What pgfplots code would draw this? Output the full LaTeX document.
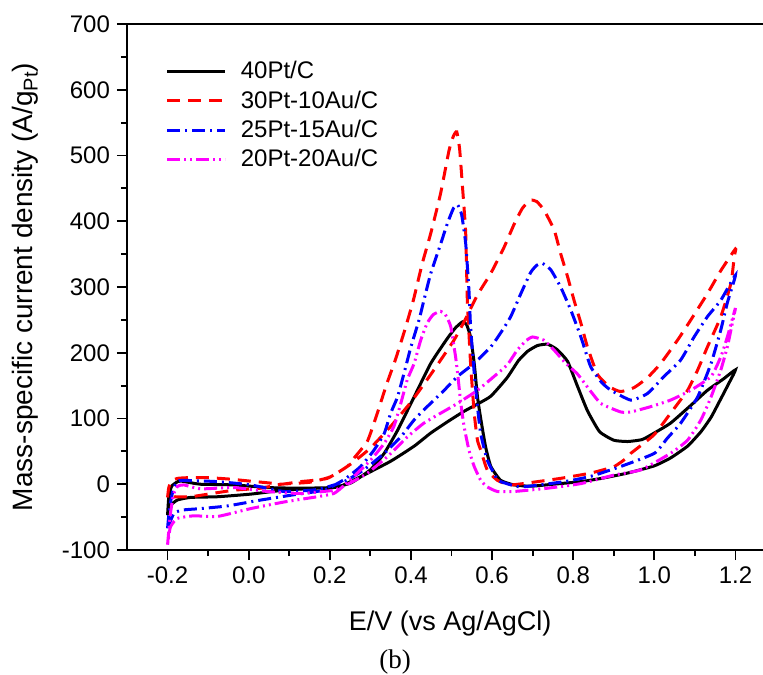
\documentclass[border=0pt]{standalone}
\usepackage{pgfplots}
\pgfplotsset{compat=1.18}
\usepackage{fontspec}
\setmainfont{Liberation Sans}
\newfontfamily\seriffont{Liberation Serif}
\definecolor{mag}{RGB}{255,0,255}
\definecolor{rd}{RGB}{255,0,0}
\definecolor{bl}{RGB}{0,0,255}
\begin{document}
\begin{tikzpicture}
\begin{axis}[
  scale only axis, width=324.5pt, height=263pt,
  xmin=-0.3, xmax=1.3, ymin=-100, ymax=700,
  xtick={-0.2,0,0.2,0.4,0.6,0.8,1.0,1.2},
  minor xtick={-0.1,0.1,0.3,0.5,0.7,0.9,1.1},
  ytick={-100,0,100,200,300,400,500,600,700},
  minor ytick={-50,50,150,250,350,450,550,650},
  xtick pos=left, ytick pos=left,
  tick align=outside,
  major tick length=5pt, minor tick length=3pt,
  every tick/.style={black, line width=0.9pt},
  axis line style={line width=1.1pt},
  /pgf/number format/assume math mode=true,
  xticklabel style={/pgf/number format/.cd, fixed, fixed zerofill, precision=1},
  yticklabel style={/pgf/number format/.cd, fixed, precision=0},
  tick label style={font=\fontsize{12}{14}\selectfont},
  xlabel={E/V (vs Ag/AgCl)},
  ylabel={Mass-specific current density (A/g\raisebox{-0.35ex}{\fontsize{10}{11}\selectfont Pt})},
  xlabel style={at={(axis description cs:0.498,-0.139)}, anchor=center, font=\fontsize{13.5}{15}\selectfont},
  ylabel style={at={(axis description cs:-0.157,0.5)}, anchor=center, font=\fontsize{14}{16}\selectfont},
  legend style={draw=none, fill=none, font=\fontsize{12}{14}\selectfont,
    at={(0.05,0.945)}, anchor=north west, row sep=0.5pt, column sep=5pt},
  legend cell align=left,
  legend image code/.code={\draw[#1] (0pt,0pt) -- (29pt,0pt);},
  every axis plot/.append style={smooth, tension=0.3},
]
% 40Pt/C
\addplot[black, line width=1.5pt] coordinates {
(-0.2,-47) (-0.197,-20) (-0.19,-3) (-0.175,4) (-0.168,5) (-0.14,2) (-0.118,0) (-0.036,-1) (0.046,-5) (0.128,-6) (0.21,-5) (0.227,-3) (0.284,14) (0.35,35) (0.408,58) (0.449,78) (0.49,95) (0.531,111) (0.564,122) (0.597,134) (0.637,162) (0.665,188) (0.687,202) (0.712,211) (0.737,213) (0.76,205) (0.786,187) (0.81,150) (0.835,112) (0.865,80) (0.9,67) (0.934,65) (0.97,68) (1.0,78) (1.04,93) (1.09,120) (1.131,143) (1.17,160) (1.2,174)
(1.185,155) (1.164,130) (1.14,102) (1.115,80) (1.082,58) (1.04,40) (1.0,28) (0.934,17) (0.87,9) (0.819,4) (0.75,0) (0.695,-3) (0.654,-1) (0.621,6) (0.597,27) (0.584,57) (0.572,100) (0.564,133) (0.556,184) (0.547,224) (0.537,243) (0.527,247) (0.51,238) (0.49,222) (0.449,184) (0.408,133) (0.367,82) (0.334,47) (0.3,22) (0.252,2) (0.2,-6) (0.169,-6) (0.087,-9) (0.005,-15) (-0.077,-19) (-0.143,-20) (-0.176,-24) (-0.196,-34) (-0.2,-47)
};
\addlegendentry{40Pt/C}
% 30Pt-10Au/C
\addplot[rd, line width=1.5pt, dash pattern=on 6.5pt off 4pt] coordinates {
(-0.2,-20) (-0.197,-5) (-0.19,5) (-0.175,9) (-0.15,10) (-0.1,10) (-0.05,8) (0.0,5) (0.05,2) (0.08,0) (0.128,4) (0.194,9) (0.25,30) (0.3,55) (0.35,88) (0.4,125) (0.45,168) (0.506,219) (0.535,252) (0.564,288) (0.597,321) (0.63,361) (0.654,395) (0.675,420) (0.695,432) (0.71,430) (0.728,417) (0.753,387) (0.769,351) (0.786,316) (0.802,280) (0.819,245) (0.835,209) (0.86,167) (0.89,148) (0.917,141) (0.95,147) (0.983,162) (1.016,184) (1.057,219) (1.09,250) (1.131,290) (1.164,325) (1.2,358)
(1.197,346) (1.189,306) (1.164,255) (1.131,209) (1.107,174) (1.082,143) (1.04,108) (0.999,75) (0.942,47) (0.934,41) (0.901,27) (0.843,17) (0.769,9) (0.712,4) (0.646,-1) (0.613,6) (0.588,22) (0.572,52) (0.564,67) (0.556,108) (0.547,184) (0.539,280) (0.535,382) (0.527,453) (0.52,510) (0.513,536) (0.505,530) (0.494,508) (0.473,442) (0.449,382) (0.428,336) (0.406,280) (0.385,235) (0.362,190) (0.34,152) (0.317,108) (0.293,66) (0.26,40) (0.243,27) (0.2,11) (0.15,3) (0.08,0) (0.03,-6) (-0.036,-9) (-0.1,-15) (-0.143,-19) (-0.18,-19) (-0.2,-20)
};
\addlegendentry{30Pt-10Au/C}
% 25Pt-15Au/C
\addplot[bl, line width=1.5pt, dash pattern=on 6.5pt off 2.5pt on 1pt off 2.5pt] coordinates {
(-0.2,-67) (-0.195,-35) (-0.185,-5) (-0.175,4) (-0.164,6) (-0.077,4) (0.005,-1) (0.087,-11) (0.169,-8) (0.235,4) (0.284,22) (0.334,47) (0.375,72) (0.408,98) (0.44,118) (0.482,143) (0.515,164) (0.556,184) (0.597,209) (0.621,230) (0.646,255) (0.671,290) (0.695,322) (0.71,333) (0.724,336) (0.745,326) (0.769,300) (0.794,265) (0.819,224) (0.843,179) (0.87,155) (0.893,143) (0.942,128) (0.983,138) (1.024,164) (1.065,189) (1.098,224) (1.131,255) (1.164,280) (1.2,318)
(1.18,276) (1.164,235) (1.14,184) (1.107,133) (1.065,93) (1.032,70) (1.0,47) (0.917,27) (0.843,12) (0.778,4) (0.671,-4) (0.621,4) (0.613,7) (0.588,37) (0.572,77) (0.564,118) (0.556,169) (0.547,240) (0.543,295) (0.535,366) (0.525,410) (0.515,425) (0.505,420) (0.49,397) (0.473,365) (0.449,321) (0.432,280) (0.42,250) (0.4,209) (0.383,169) (0.367,133) (0.35,108) (0.334,77) (0.309,52) (0.276,27) (0.235,7) (0.185,-9) (0.111,-16) (0.03,-24) (-0.053,-33) (-0.118,-37) (-0.16,-39) (-0.184,-44) (-0.2,-67)
};
\addlegendentry{25Pt-15Au/C}
% 20Pt-20Au/C
\addplot[mag, line width=1.5pt, dash pattern=on 6.5pt off 2pt on 1pt off 2pt on 1pt off 2pt] coordinates {
(-0.2,-92) (-0.193,-45) (-0.185,-15) (-0.175,-3) (-0.16,-1) (-0.118,-7) (-0.036,-5) (0.046,-11) (0.128,-14) (0.21,-9) (0.25,2) (0.293,17) (0.342,42) (0.391,72) (0.432,93) (0.473,108) (0.515,123) (0.564,143) (0.605,164) (0.638,182) (0.662,204) (0.685,219) (0.7,224) (0.728,219) (0.753,204) (0.78,185) (0.81,168) (0.835,148) (0.868,123) (0.917,110) (0.942,110) (0.991,118) (1.04,128) (1.09,143) (1.14,164) (1.164,194) (1.18,224) (1.2,268)
(1.189,235) (1.18,209) (1.164,174) (1.14,133) (1.115,98) (1.082,67) (1.04,47) (0.967,22) (0.901,14) (0.819,1) (0.737,-6) (0.654,-11) (0.613,-11) (0.588,-4) (0.572,6) (0.556,27) (0.543,52) (0.531,88) (0.523,123) (0.515,169) (0.51,194) (0.498,240) (0.485,258) (0.473,263) (0.455,258) (0.44,245) (0.424,219) (0.408,184) (0.391,159) (0.375,123) (0.358,88) (0.334,62) (0.301,37) (0.268,17) (0.235,-2) (0.21,-14) (0.169,-19) (0.087,-27) (0.005,-37) (-0.077,-49) (-0.135,-48) (-0.176,-52) (-0.193,-65) (-0.2,-92)
};
\addlegendentry{20Pt-20Au/C}
\end{axis}
\node[anchor=base, font=\seriffont\fontsize{13.5}{15}\selectfont] at ([xshift=134pt,yshift=-59pt]current axis.south west) {(b)};
\pgfresetboundingbox
\path (current axis.south west) ++(-63.5pt,-62pt) rectangle ++(381.5pt,337pt);
\end{tikzpicture}
\end{document}
